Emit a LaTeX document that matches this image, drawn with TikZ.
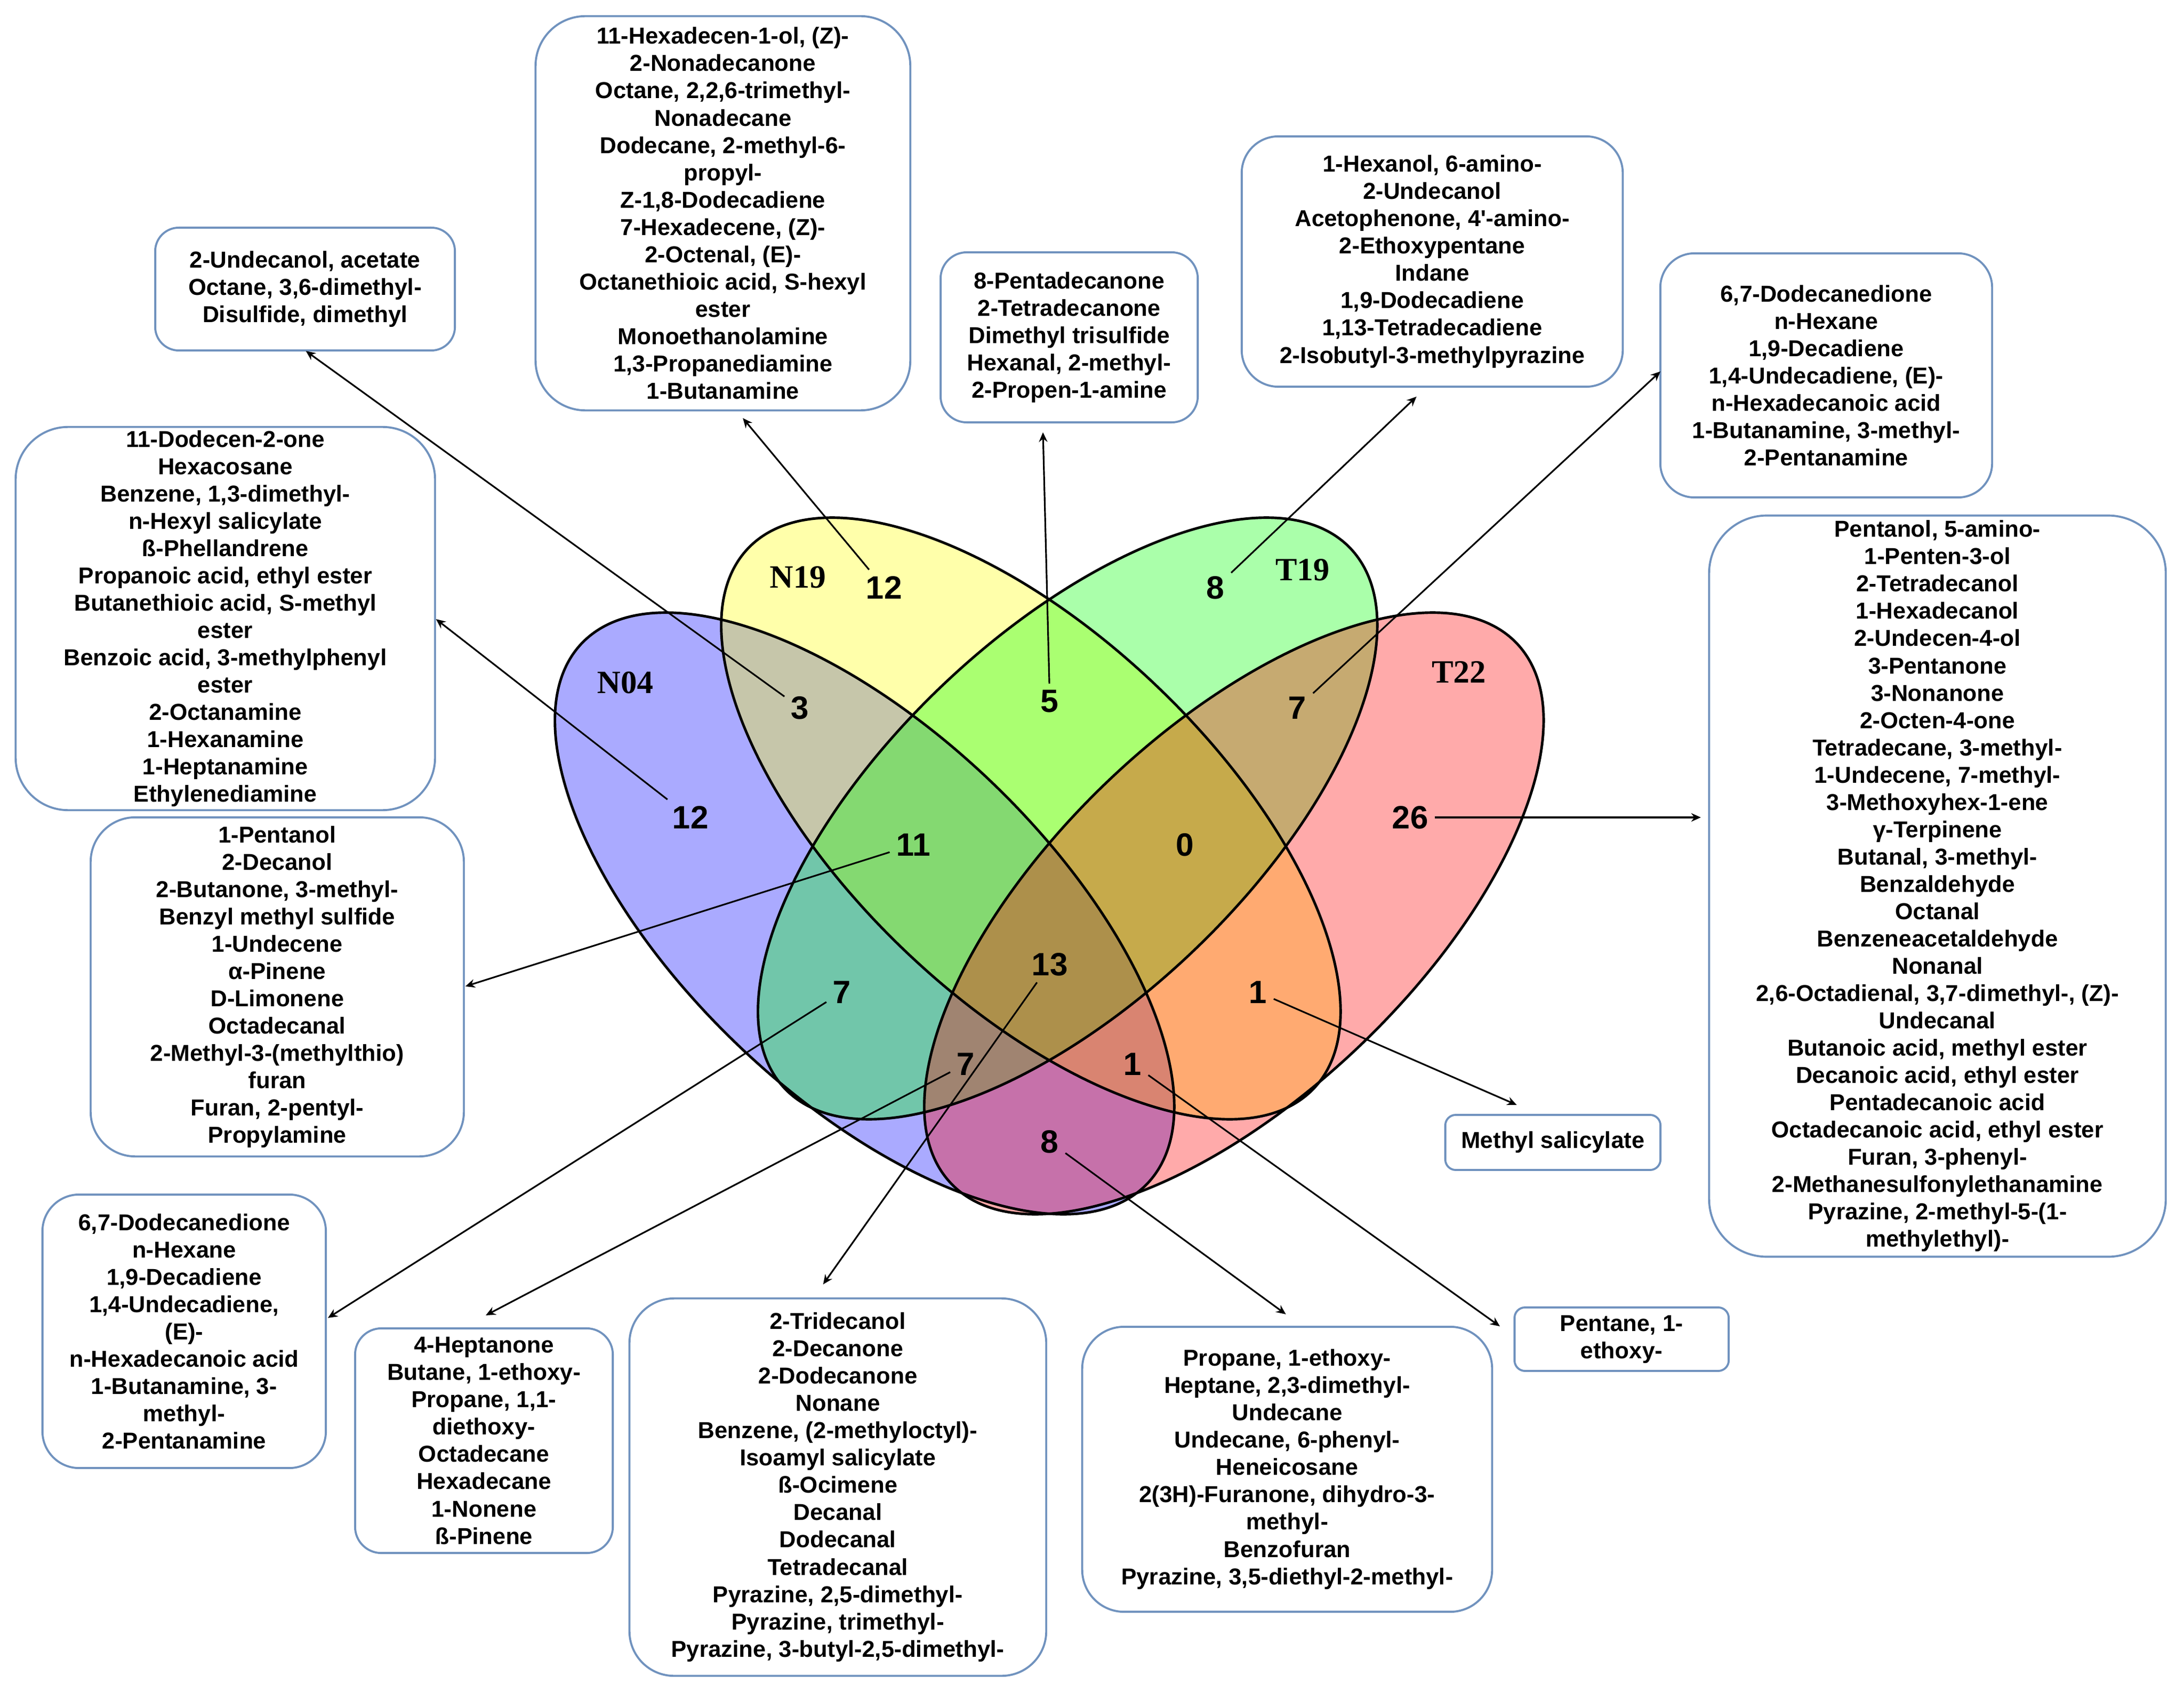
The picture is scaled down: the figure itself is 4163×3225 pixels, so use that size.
\documentclass[tikz,border=0pt]{standalone}
\usepackage{fontspec}
\setmainfont{Liberation Sans}
\newfontfamily\serifb{Liberation Serif}
\usetikzlibrary{arrows.meta}
\definecolor{boxblue}{RGB}{112,146,190}
\definecolor{vblue}{RGB}{0,0,255}
\definecolor{vyellow}{RGB}{255,255,0}
\definecolor{vgreen}{RGB}{0,255,0}
\definecolor{vred}{RGB}{255,0,0}
\begin{document}
\begin{tikzpicture}[x=0.01cm,y=-0.01cm,
  boxtext/.style={font=\fontsize{12.5pt}{14.8pt}\selectfont\bfseries},
  cbox/.style={draw=boxblue, line width=1.1pt, rounded corners=#1, align=center, inner sep=0pt, boxtext},
  cbox/.default=0.5cm,
  num/.style={font=\fontsize{17.5pt}{20pt}\selectfont\bfseries, inner sep=0.12cm},
  setlab/.style={font=\serifb\fontsize{17.6pt}{20pt}\selectfont\bfseries, inner sep=0pt},
  conn/.style={draw=black, line width=0.9pt, -{Stealth[length=5.2pt,width=4.6pt]}},
  vring/.style={draw=black, line width=1.4pt},
  vfill/.style={fill=#1, fill opacity=0.333}
]
\fill[white] (0,0) rectangle (4163,3225);
\useasboundingbox (0,0) rectangle (4163,3225);

% ---- Venn ellipses ----
\fill[vfill=vblue, rotate around={-43.7:(1648,1741)}] (1648,1741) ellipse [x radius=7.45cm, y radius=3.48cm];
\fill[vfill=vyellow, rotate around={-43.7:(1965,1560)}] (1965,1560) ellipse [x radius=7.45cm, y radius=3.48cm];
\fill[vfill=vgreen, rotate around={43.7:(2035,1560)}] (2035,1560) ellipse [x radius=7.45cm, y radius=3.48cm];
\fill[vfill=vred, rotate around={43.7:(2352,1741)}] (2352,1741) ellipse [x radius=7.45cm, y radius=3.48cm];
\draw[vring, rotate around={-43.7:(1648,1741)}] (1648,1741) ellipse [x radius=7.45cm, y radius=3.48cm];
\draw[vring, rotate around={-43.7:(1965,1560)}] (1965,1560) ellipse [x radius=7.45cm, y radius=3.48cm];
\draw[vring, rotate around={43.7:(2035,1560)}] (2035,1560) ellipse [x radius=7.45cm, y radius=3.48cm];
\draw[vring, rotate around={43.7:(2352,1741)}] (2352,1741) ellipse [x radius=7.45cm, y radius=3.48cm];

% ---- set labels ----
\node[setlab] (lN04) at (1192,1301) {N04};
\node[setlab] (lN19) at (1521,1100) {N19};
\node[setlab] (lT19) at (2483,1086) {T19};
\node[setlab] (lT22) at (2781,1281) {T22};

% ---- region counts ----
\node[num] (n12b) at (1685,1120) {12};
\node[num] (n8a) at (2317,1120) {8};
\node[num] (n3) at (1525,1349) {3};
\node[num] (n5) at (2001,1337) {5};
\node[num] (n7a) at (2473,1349) {7};
\node[num] (n12a) at (1316,1558) {12};
\node[num] (n11) at (1741,1610) {11};
\node[num] (n0) at (2259,1610) {0};
\node[num] (n26) at (2688,1558) {26};
\node[num] (n7b) at (1605,1891) {7};
\node[num] (n13) at (2001,1838) {13};
\node[num] (n1a) at (2398,1891) {1};
\node[num] (n7c) at (1841,2028) {7};
\node[num] (n1b) at (2159,2028) {1};
\node[num] (n8b) at (2001,2176) {8};

% ---- boxes ----
\node[cbox=0.45cm, minimum width=5.71cm, minimum height=2.34cm] (b1) at (581.5,551) {2-Undecanol, acetate\\Octane, 3,6-dimethyl-\\Disulfide, dimethyl};
\node[cbox=1.0cm, minimum width=7.99cm, minimum height=7.30cm] (b2) at (429.5,1179) {11-Dodecen-2-one\\Hexacosane\\Benzene, 1,3-dimethyl-\\n-Hexyl salicylate\\ß-Phellandrene\\Propanoic acid, ethyl ester\\Butanethioic acid, S-methyl\\ester\\Benzoic acid, 3-methylphenyl\\ester\\2-Octanamine\\1-Hexanamine\\1-Heptanamine\\Ethylenediamine};
\node[cbox=0.85cm, minimum width=7.11cm, minimum height=6.46cm] (b3) at (528.5,1881) {1-Pentanol\\2-Decanol\\2-Butanone, 3-methyl-\\Benzyl methyl sulfide\\1-Undecene\\α-Pinene\\D-Limonene\\Octadecanal\\2-Methyl-3-(methylthio)\\furan\\Furan, 2-pentyl-\\Propylamine};
\node[cbox=0.95cm, minimum width=7.14cm, minimum height=7.51cm] (b4) at (1378,406.5) {11-Hexadecen-1-ol, (Z)-\\2-Nonadecanone\\Octane, 2,2,6-trimethyl-\\Nonadecane\\Dodecane, 2-methyl-6-\\propyl-\\Z-1,8-Dodecadiene\\7-Hexadecene, (Z)-\\2-Octenal, (E)-\\Octanethioic acid, S-hexyl\\ester\\Monoethanolamine\\1,3-Propanediamine\\1-Butanamine};
\node[cbox=0.5cm, minimum width=4.90cm, minimum height=3.24cm] (b5) at (2038,643) {8-Pentadecanone\\2-Tetradecanone\\Dimethyl trisulfide\\Hexanal, 2-methyl-\\2-Propen-1-amine};
\node[cbox=0.7cm, minimum width=7.26cm, minimum height=4.77cm] (b6) at (2730,498.5) {1-Hexanol, 6-amino-\\2-Undecanol\\Acetophenone, 4\textquotesingle-amino-\\2-Ethoxypentane\\Indane\\1,9-Dodecadiene\\1,13-Tetradecadiene\\2-Isobutyl-3-methylpyrazine};
\node[cbox=0.65cm, minimum width=6.32cm, minimum height=4.65cm] (b7) at (3481,715.5) {6,7-Dodecanedione\\n-Hexane\\1,9-Decadiene\\1,4-Undecadiene, (E)-\\n-Hexadecanoic acid\\1-Butanamine, 3-methyl-\\2-Pentanamine};
\node[cbox=1.1cm, minimum width=8.70cm, minimum height=14.12cm] (b8) at (3693,1689) {Pentanol, 5-amino-\\1-Penten-3-ol\\2-Tetradecanol\\1-Hexadecanol\\2-Undecen-4-ol\\3-Pentanone\\3-Nonanone\\2-Octen-4-one\\Tetradecane, 3-methyl-\\1-Undecene, 7-methyl-\\3-Methoxyhex-1-ene\\γ-Terpinene\\Butanal, 3-methyl-\\Benzaldehyde\\Octanal\\Benzeneacetaldehyde\\Nonanal\\2,6-Octadienal, 3,7-dimethyl-, (Z)-\\Undecanal\\Butanoic acid, methyl ester\\Decanoic acid, ethyl ester\\Pentadecanoic acid\\Octadecanoic acid, ethyl ester\\Furan, 3-phenyl-\\2-Methanesulfonylethanamine\\Pyrazine, 2-methyl-5-(1-\\methylethyl)-};
\node[cbox=0.2cm, minimum width=4.10cm, minimum height=1.05cm] (b9) at (2960,2177.5) {Methyl salicylate};
\node[cbox=0.2cm, minimum width=4.08cm, minimum height=1.21cm] (b10) at (3091,2552.5) {Pentane, 1-\\ethoxy-};
\node[cbox=0.8cm, minimum width=7.81cm, minimum height=5.43cm] (b11) at (2453.5,2800.5) {Propane, 1-ethoxy-\\Heptane, 2,3-dimethyl-\\Undecane\\Undecane, 6-phenyl-\\Heneicosane\\2(3H)-Furanone, dihydro-3-\\methyl-\\Benzofuran\\Pyrazine, 3,5-diethyl-2-methyl-};
\node[cbox=0.85cm, minimum width=7.94cm, minimum height=7.19cm] (b12) at (1597,2834.5) {2-Tridecanol\\2-Decanone\\2-Dodecanone\\Nonane\\Benzene, (2-methyloctyl)-\\Isoamyl salicylate\\ß-Ocimene\\Decanal\\Dodecanal\\Tetradecanal\\Pyrazine, 2,5-dimethyl-\\Pyrazine, trimethyl-\\Pyrazine, 3-butyl-2,5-dimethyl-};
\node[cbox=0.5cm, minimum width=4.91cm, minimum height=4.28cm] (b13) at (922.5,2746) {4-Heptanone\\Butane, 1-ethoxy-\\Propane, 1,1-\\diethoxy-\\Octadecane\\Hexadecane\\1-Nonene\\ß-Pinene};
\node[cbox=0.7cm, minimum width=5.40cm, minimum height=5.21cm] (b14) at (351,2537.5) {6,7-Dodecanedione\\n-Hexane\\1,9-Decadiene\\1,4-Undecadiene,\\(E)-\\n-Hexadecanoic acid\\1-Butanamine, 3-\\methyl-\\2-Pentanamine};

% ---- arrow tips ----
\coordinate (t1) at (583,669);
\coordinate (t2) at (831,1180);
\coordinate (t3) at (887,1880);
\coordinate (t4) at (1416,797);
\coordinate (t5) at (1988,824);
\coordinate (t6) at (2700,756);
\coordinate (t7) at (3165,708);
\coordinate (t8) at (3242,1558);
\coordinate (t9) at (2891,2106);
\coordinate (t10) at (2859,2528);
\coordinate (t11) at (2451,2505);
\coordinate (t12) at (1569,2448);
\coordinate (t13) at (926,2507);
\coordinate (t14) at (625,2512);

% ---- connectors ----
\draw[conn] (n3) -- (t1);
\draw[conn] (n12a) -- (t2);
\draw[conn] (n11) -- (t3);
\draw[conn] (n12b) -- (t4);
\draw[conn] (n5) -- (t5);
\draw[conn] (n8a) -- (t6);
\draw[conn] (n7a) -- (t7);
\draw[conn] (n26) -- (t8);
\draw[conn] (n1a) -- (t9);
\draw[conn] (n1b) -- (t10);
\draw[conn] (n8b) -- (t11);
\draw[conn] (n13) -- (t12);
\draw[conn] (n7c) -- (t13);
\draw[conn] (n7b) -- (t14);
\end{tikzpicture}
\end{document}
